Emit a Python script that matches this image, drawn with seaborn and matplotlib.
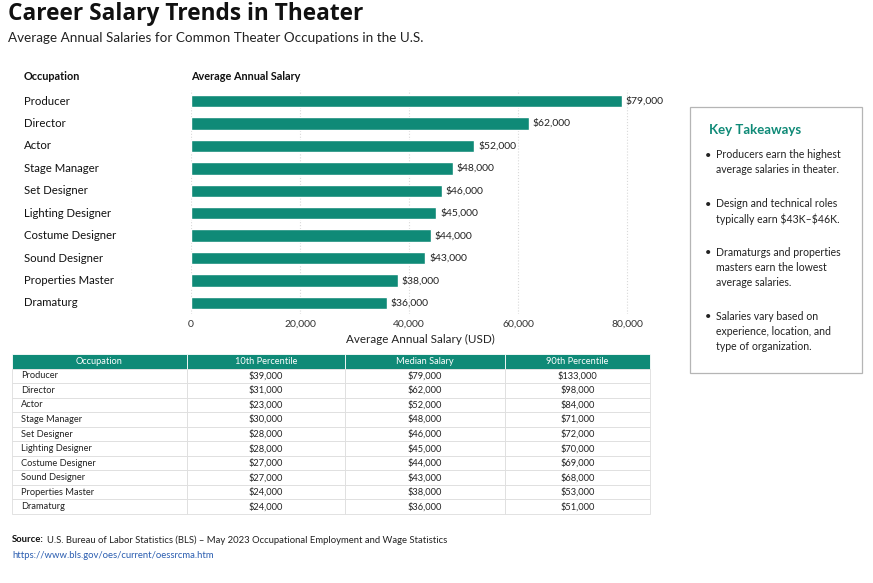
import pandas as pd
import seaborn as sns
import matplotlib.pyplot as plt
from matplotlib.patches import Rectangle
from matplotlib.transforms import blended_transform_factory

# Data
occupations = ['Producer', 'Director', 'Actor', 'Stage Manager', 'Set Designer',
               'Lighting Designer', 'Costume Designer', 'Sound Designer',
               'Properties Master', 'Dramaturg']
avg_salary = [79000, 62000, 52000, 48000, 46000, 45000, 44000, 43000, 38000, 36000]
p10 = [39000, 31000, 23000, 30000, 28000, 28000, 27000, 27000, 24000, 24000]
median = [79000, 62000, 52000, 48000, 46000, 45000, 44000, 43000, 38000, 36000]
p90 = [133000, 98000, 84000, 71000, 72000, 70000, 69000, 68000, 53000, 51000]
table_cols = ['Occupation', '10th Percentile', 'Median Salary', '90th Percentile']
x_ticks = [0, 20000, 40000, 60000, 80000]
takeaways = [
    'Producers earn the highest\naverage salaries in theater.',
    'Design and technical roles\ntypically earn \\$43K\u2013\\$46K.',
    'Dramaturgs and properties\nmasters earn the lowest\naverage salaries.',
    'Salaries vary based on\nexperience, location, and\ntype of organization.',
]

df = pd.DataFrame({'Occupation': occupations, 'Salary': avg_salary})

TEAL = '#0f8a77'
W, H = 873, 583

sns.set_theme(style='white')
plt.rcParams['font.family'] = ['Lato', 'DejaVu Sans']

fig = plt.figure(figsize=(W / 100, H / 100), dpi=100)


def fx(px):
    return px / W


def fy(py):
    return 1 - py / H


# Titles
fig.text(fx(8), fy(14), 'Career Salary Trends in Theater', fontsize=16.3,
         fontweight='bold', family=['Open Sans', 'DejaVu Sans'], va='center', color='#111111')
fig.text(fx(8), fy(38), 'Average Annual Salaries for Common Theater Occupations in the U.S.',
         fontsize=9.7, va='center', color='#222222')

# Bar chart
px_per_k = 5.45
ax_left, ax_right_px = 191, 191 + 84 * px_per_k
ax_top, ax_bot = 89.8, 314.2
ax = fig.add_axes([fx(ax_left), fy(ax_bot), fx(ax_right_px - ax_left), (ax_bot - ax_top) / H])
sns.barplot(data=df, y='Occupation', x='Salary', color=TEAL, width=0.55,
            saturation=1, ax=ax, orient='h')
ax.set_xlim(0, 84000)
ax.set_ylim(9.5, -0.5)
ax.set_xticks(x_ticks)
ax.set_xticklabels([f'{t:,}' for t in x_ticks], fontsize=7.5, color='#333333')
ax.tick_params(axis='x', length=0, pad=4)
ax.set_yticks([])
ax.set_ylabel('')
ax.set_xlabel('Average Annual Salary (USD)', fontsize=8.4, color='#222222', labelpad=4)
for s in ax.spines.values():
    s.set_visible(False)
ax.grid(axis='x', color='#d9d9d9', linestyle=':', linewidth=0.8)
ax.set_axisbelow(True)

for i, v in enumerate(avg_salary):
    ax.text(v + 700, i, f'\\${v:,}', va='center', ha='left', fontsize=7.5, color='#222222')

trans = blended_transform_factory(fig.transFigure, ax.transData)
for i, name in enumerate(occupations):
    ax.text(fx(24), i, name, transform=trans, va='center', ha='left', fontsize=8.2,
            color='#111111', clip_on=False)

fig.text(fx(24), fy(76), 'Occupation', fontsize=7.8, fontweight='bold', va='center', color='#111111')
fig.text(fx(191), fy(76), 'Average Annual Salary', fontsize=7.8, fontweight='bold', va='center',
         color='#111111')

# Key takeaways box
fig.patches.append(Rectangle((fx(690), fy(373)), fx(172), (373 - 107) / H, transform=fig.transFigure,
                             facecolor='white', edgecolor='#b5b5b5', linewidth=0.9))
fig.text(fx(709), fy(130), 'Key Takeaways', fontsize=9.5, fontweight='bold', color=TEAL, va='center')
bullet_y = [155, 204, 253, 317]
for y, txt in zip(bullet_y, takeaways):
    fig.text(fx(705), fy(y), '\u2022', fontsize=8, va='center', color='#222222')
    fig.text(fx(716), fy(y - 6.5), txt, fontsize=7.6, va='top', color='#222222', linespacing=1.5)

# Table
tax = fig.add_axes([fx(12), fy(514), fx(638), (514 - 354) / H])
tax.axis('off')
rows = [[o, f'${a:,}', f'${b:,}', f'${c:,}'] for o, a, b, c in zip(occupations, p10, median, p90)]
col_w = [175 / 638, 158 / 638, 160 / 638, 145 / 638]
tbl = tax.table(cellText=rows, colLabels=table_cols, colWidths=col_w, cellLoc='center',
                bbox=[0, 0, 1, 1])
tbl.auto_set_font_size(False)
tbl.set_fontsize(6.7)
for (r, c), cell in tbl.get_celld().items():
    cell.set_edgecolor('#dddddd')
    cell.set_linewidth(0.6)
    if r == 0:
        cell.set_facecolor(TEAL)
        cell.set_edgecolor('white')
        cell.get_text().set_color('white')
    else:
        cell.get_text().set_color('#222222')
        if c == 0:
            cell._loc = 'left'
            cell.PAD = 0.05
            cell.get_text().set_horizontalalignment('left')

# Source
src = fig.text(fx(12), fy(540), 'Source:', fontsize=6.8, fontweight='bold', va='center', color='#111111')
fig.canvas.draw()
bb = src.get_window_extent()
fig.text(bb.x1 / W + fx(3), fy(540),
         'U.S. Bureau of Labor Statistics (BLS) \u2013 May 2023 Occupational Employment and Wage Statistics',
         fontsize=6.8, va='center', color='#222222')
fig.text(fx(12), fy(555), 'https://www.bls.gov/oes/current/oessrcma.htm', fontsize=6.8,
         va='center', color='#2a5db0')

fig.savefig('out.png', dpi=100, facecolor='white')
